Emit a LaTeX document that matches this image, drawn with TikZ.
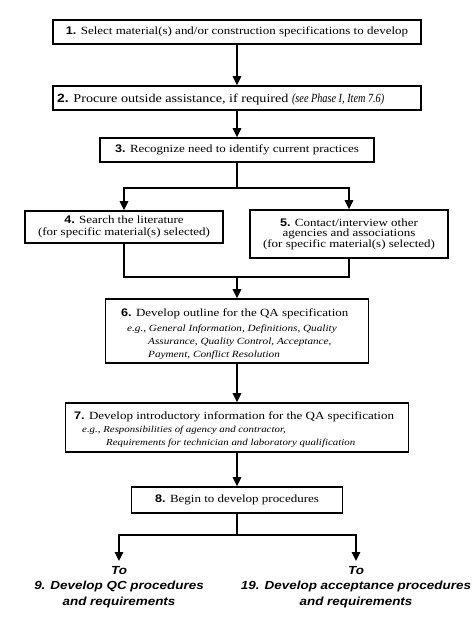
\documentclass[tikz,border=0pt]{standalone}
\usepackage{fontspec}
\setmainfont{Liberation Serif}[FakeStretch=1.18]
\setsansfont{Liberation Sans}[FakeStretch=1.15]
\newfontface\itcond{Liberation Serif Italic}[FakeStretch=0.82]
\usetikzlibrary{arrows.meta}
\newcommand{\numb}[1]{{\sffamily\bfseries #1}}
\begin{document}
\begin{tikzpicture}[x=1pt,y=-1pt,
  box/.style={draw,line width=1.6pt,inner sep=0pt,align=center,
    font=\fontsize{11}{10.5}\selectfont},
  ln/.style={line width=1.6pt},
  arr/.style={line width=1.6pt,-{Triangle[length=9pt,width=8.5pt]}},
  line6/.style={anchor=base west,inner sep=0pt,font=\fontsize{11}{12}\selectfont},
  ital6/.style={anchor=base west,inner sep=0pt,font=\fontsize{9.5}{11}\selectfont\itshape},
  ital7/.style={anchor=base west,inner sep=0pt,font=\fontsize{9.2}{10}\selectfont\itshape},
  dest/.style={anchor=north,inner sep=0pt,align=center,
    font=\fontsize{11.7}{15.5}\selectfont\sffamily\bfseries\itshape}]
\useasboundingbox[fill=white] (0,0) rectangle (474,627);

\node[box,minimum width=368pt,minimum height=24pt] (b1) at (237,32)
  {\numb{1.} Select material(s) and/or construction specifications to develop};
\node[box,minimum width=368pt,minimum height=24pt] (b2) at (237,98) {};
\node[anchor=base west,inner sep=0pt,font=\fontsize{12}{12}\selectfont] (t2) at (57,102)
  {\numb{2.} Procure outside assistance, if required {\fontsize{12.5}{12}\itcond (see Phase I, Item 7.6)}};
\node[box,minimum width=274pt,minimum height=24pt] (b3) at (237,150)
  {\numb{3.} Recognize need to identify current practices};
\node[box,minimum width=198pt,minimum height=32pt,font=\fontsize{11}{11.5}\selectfont] (b4) at (124,227)
  {\numb{4.} Search the literature\\(for specific material(s) selected)};
\node[box,minimum width=198pt,minimum height=48pt] (b5) at (349,234)
  {\numb{5.} Contact/interview other\\agencies and associations\\(for specific material(s) selected)};
\node[box,minimum width=263pt,minimum height=64pt] (b6) at (237,331) {};
\node[line6] (t6a) at (121,316) {\numb{6.} Develop outline for the QA specification};
\node[ital6] (t6b) at (127,331) {e.g., General Information, Definitions, Quality};
\node[ital6] (t6c) at (148,344) {Assurance, Quality Control, Acceptance,};
\node[ital6] (t6d) at (148,357) {Payment, Conflict Resolution};
\node[box,minimum width=343pt,minimum height=49pt] (b7) at (237,427.5) {};
\node[line6] (t7a) at (74,419) {\numb{7.} Develop introductory information for the QA specification};
\node[ital7] (t7b) at (82,432) {e.g., Responsibilities of agency and contractor,};
\node[ital7] (t7c) at (106,445) {Requirements for technician and laboratory qualification};
\node[box,minimum width=211pt,minimum height=26pt] (b8) at (237,500)
  {\numb{8.} Begin to develop procedures};

\node[dest] (d9) at (119,566) {To\\9. Develop QC procedures\\and requirements};
\node[dest] (d19) at (356,566) {To\\19. Develop acceptance procedures\\and requirements};

\coordinate (j1) at (237,188);
\coordinate (j2) at (237,277);
\coordinate (j3) at (237,535);

\draw[arr] (b1) -- (b2);
\draw[arr] (b2) -- (b3);
\draw[ln] (b3.south) -- (j1);
\draw[arr] (j1) -| (b4.north);
\draw[arr] (j1) -| (b5.north);
\draw[ln] (b4.south) |- (j2);
\draw[ln] (b5.south) |- (j2);
\draw[arr] (j2) -- (b6.north);
\draw[arr] (b6) -- (b7);
\draw[arr] (b7) -- (b8);
\draw[ln] (b8.south) -- (j3);
\draw[arr] (j3) -| ([yshift=5pt]d9.north);
\draw[arr] (j3) -| ([yshift=5pt]d19.north);
\end{tikzpicture}
\end{document}
